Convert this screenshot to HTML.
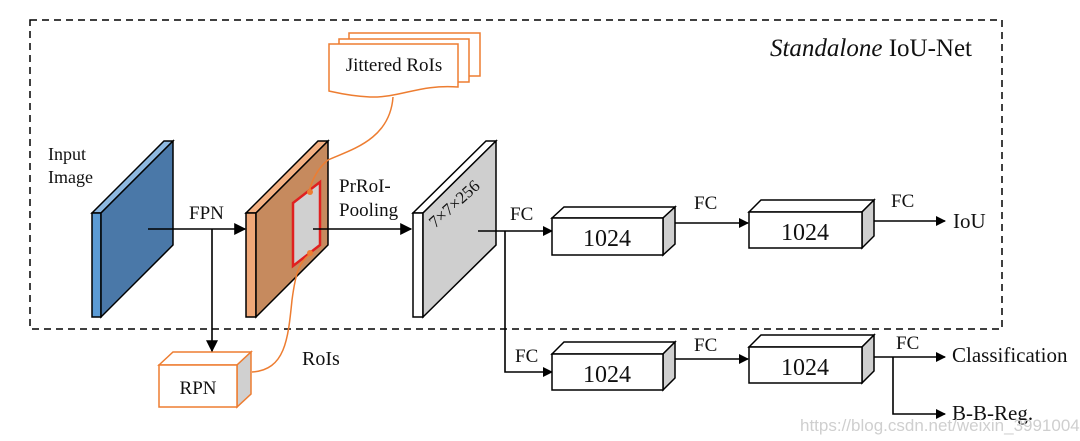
<!DOCTYPE html>
<html><head><meta charset="utf-8"><style>
html,body{margin:0;padding:0;background:#fff}
svg{display:block}
text{font-family:"Liberation Serif",serif;fill:#111}
</style></head><body>
<svg width="1080" height="441" viewBox="0 0 1080 441" xmlns="http://www.w3.org/2000/svg">
<defs>
<marker id="a" viewBox="0 0 10 10" refX="9" refY="5" markerWidth="11" markerHeight="10" orient="auto" markerUnits="userSpaceOnUse"><path d="M0,0 L10,5 L0,10 z" fill="#000"/></marker>
<marker id="b" viewBox="0 0 10 10" refX="9" refY="5" markerWidth="12" markerHeight="12" orient="auto" markerUnits="userSpaceOnUse"><path d="M0,0 L10,5 L0,10 z" fill="#000"/></marker>
</defs>
<rect x="30" y="20" width="972" height="309" fill="none" stroke="#000" stroke-width="1.5" stroke-dasharray="7,5"/>
<text x="972" y="56" font-size="25" text-anchor="end"><tspan font-style="italic">Standalone</tspan> IoU-Net</text>
<text x="48" y="160" font-size="18">Input</text>
<text x="48" y="183" font-size="18">Image</text>
<g stroke="#000" stroke-width="1.5">
<polygon points="92,213 101,213 173,141 164,141" fill="#8db8e0"/>
<rect x="92" y="213" width="9" height="104" fill="#5b9bd5"/>
<polygon points="101,213 173,141 173,245 101,317" fill="#4a78a8"/>
</g>
<g stroke="#000" stroke-width="1.5">
<polygon points="246,213 256,213 328,141 318,141" fill="#f4b183"/>
<rect x="246" y="213" width="10" height="104" fill="#f0a878"/>
<polygon points="256,213 328,141 328,245 256,317" fill="#c68a5e"/>
</g>
<polygon points="293,203 320,182 320,245 293,266" fill="#d0d0d0" stroke="#e02020" stroke-width="2.5"/>
<g stroke="#000" stroke-width="1.5">
<polygon points="413,213 423,213 496,141 486,141" fill="#fff"/>
<rect x="413" y="213" width="10" height="104" fill="#fff"/>
<polygon points="423,213 496,141 496,245 423,317" fill="#cfcfcf"/>
</g>
<text x="458" y="208" font-size="17" fill="#333" transform="rotate(-42 458 208)" text-anchor="middle">7×7×256</text>
<path d="M393,97 C390,140 350,150 328,160 C318,168 312,180 309,192" fill="none" stroke="#ed7d31" stroke-width="1.5"/>
<path d="M252,372 C285,370 288,340 292,300 C296,270 300,262 309,255" fill="none" stroke="#ed7d31" stroke-width="1.5"/>
<circle cx="310" cy="192" r="3" fill="#ed7d31"/><circle cx="310" cy="253" r="3" fill="#ed7d31"/>
<g stroke="#ed7d31" stroke-width="1.5" fill="#fff">
<path d="M349,33 H480 V76 H349 Z"/>
<path d="M339,39 H469 V82 H339 Z"/>
<path d="M329,44 H458 V87 C420,84 400,98 370,97 C350,96 338,93 329,91 Z"/>
</g>
<text x="394" y="71" font-size="19" text-anchor="middle">Jittered RoIs</text>
<g stroke="#ed7d31" stroke-width="1.5">
<polygon points="159,365 173,352 251,352 237,365" fill="#fff"/>
<polygon points="237,365 251,352 251,394 237,407" fill="#d0d0d0"/>
<rect x="159" y="365" width="78" height="42" fill="#fff"/>
</g>
<text x="198" y="394" font-size="19" text-anchor="middle">RPN</text>
<text x="302" y="365" font-size="20">RoIs</text>
<g stroke="#000" stroke-width="1.6" fill="none">
<line x1="148" y1="229" x2="245" y2="229" marker-end="url(#b)"/>
<line x1="212" y1="229" x2="212" y2="351" marker-end="url(#b)"/>
<line x1="313" y1="229" x2="411" y2="229" marker-end="url(#b)"/>
<line x1="478" y1="231" x2="552" y2="231" marker-end="url(#a)"/>
<polyline points="505,231 505,372 552,372" marker-end="url(#a)"/>
<line x1="675" y1="223" x2="748" y2="223" marker-end="url(#a)"/>
<line x1="675" y1="359" x2="748" y2="359" marker-end="url(#a)"/>
<line x1="873" y1="221" x2="945" y2="221" marker-end="url(#a)"/>
<line x1="873" y1="357" x2="945" y2="357" marker-end="url(#a)"/>
<polyline points="893,357 893,414 945,414" marker-end="url(#a)"/>
</g>
<text x="189" y="219" font-size="19">FPN</text>
<text x="339" y="192" font-size="19">PrRoI-</text>
<text x="339" y="216" font-size="19">Pooling</text>
<text x="510" y="220" font-size="19">FC</text>
<text x="515" y="362" font-size="19">FC</text>
<text x="694" y="209" font-size="19">FC</text>
<text x="694" y="351" font-size="19">FC</text>
<text x="891" y="207" font-size="19">FC</text>
<text x="896" y="349" font-size="19">FC</text>
<text x="953" y="228" font-size="21">IoU</text>
<text x="952" y="362" font-size="21">Classification</text>
<text x="952" y="420" font-size="21">B-B-Reg.</text>
<g stroke="#000" stroke-width="1.5">
<polygon points="552,218 564,207 675,207 663,218" fill="#fff"/>
<polygon points="663,218 675,207 675,244 663,255" fill="#cfcfcf"/>
<rect x="552" y="218" width="111" height="37" fill="#fff"/>
<polygon points="749,212 761,200 874,200 862,212" fill="#fff"/>
<polygon points="862,212 874,200 874,236 862,248" fill="#cfcfcf"/>
<rect x="749" y="212" width="113" height="36" fill="#fff"/>
<polygon points="552,354 564,342 675,342 663,354" fill="#fff"/>
<polygon points="663,354 675,342 675,378 663,390" fill="#cfcfcf"/>
<rect x="552" y="354" width="111" height="36" fill="#fff"/>
<polygon points="749,347 761,335 874,335 862,347" fill="#fff"/>
<polygon points="862,347 874,335 874,371 862,383" fill="#cfcfcf"/>
<rect x="749" y="347" width="113" height="36" fill="#fff"/>
</g>
<text x="607" y="246" font-size="24" text-anchor="middle">1024</text>
<text x="805" y="240" font-size="24" text-anchor="middle">1024</text>
<text x="607" y="382" font-size="24" text-anchor="middle">1024</text>
<text x="805" y="375" font-size="24" text-anchor="middle">1024</text>
<text x="800" y="431" font-size="17" style="font-family:'Liberation Sans',sans-serif;fill:#cfcfcf">https://blog.csdn.net/weixin_39910043</text>
</svg>
</body></html>
